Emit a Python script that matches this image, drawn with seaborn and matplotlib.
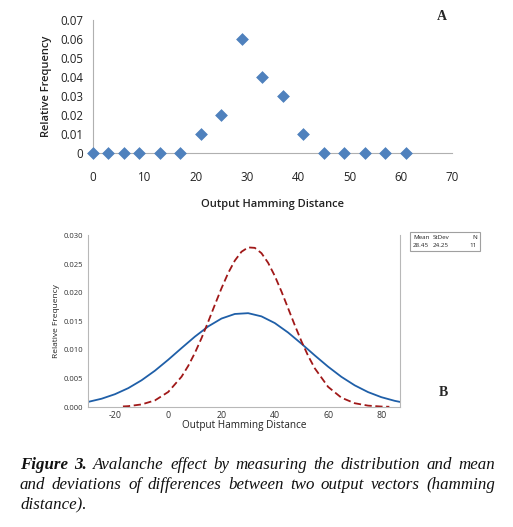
import numpy as np
import pandas as pd
import matplotlib
matplotlib.use("Agg")
import matplotlib.pyplot as plt
import seaborn as sns
from matplotlib.patches import Rectangle

# ---------------- data ----------------
# Panel A: relative frequency of output Hamming distances
hd_a = [0, 3, 6, 9, 13, 17, 21, 25, 29, 33, 37, 41, 45, 49, 53, 57, 61]
freq_a = [0, 0, 0, 0, 0, 0, 0.01, 0.02, 0.06, 0.04, 0.03, 0.01, 0, 0, 0, 0, 0]

# Panel B: blue solid curve
hd_blue = [-30, -25, -20, -15, -10, -5, 0, 5, 10, 15, 20, 25, 30, 35, 40,
           45, 50, 55, 60, 65, 70, 75, 80, 85, 87]
freq_blue = [0.0009, 0.00145, 0.00224, 0.0033, 0.00468, 0.00635, 0.00827,
             0.01031, 0.01231, 0.0141, 0.01548, 0.01628, 0.01642, 0.01586,
             0.01469, 0.01303, 0.01108, 0.00903, 0.00706, 0.00528, 0.00379,
             0.00261, 0.00172, 0.00108, 0.00089]

# Panel B: red dashed curve
hd_red = [-17, -15, -10, -5, 0, 5, 7.5, 10, 12.5, 15, 17.5, 20, 22.5, 25,
          27.5, 30, 32.5, 35, 37.5, 40, 42.5, 45, 47.5, 50, 52.5, 55, 60,
          65, 70, 75, 80, 83]
freq_red = [0.0001, 0.00015, 0.00045, 0.00115, 0.00263, 0.0053, 0.00719,
            0.00945, 0.01205, 0.01491, 0.01788, 0.02078, 0.02344, 0.02562,
            0.02717, 0.02793, 0.02785, 0.02692, 0.02523, 0.02294, 0.02022,
            0.01728, 0.01432, 0.01151, 0.00897, 0.00678, 0.00353, 0.00163,
            0.00066, 0.00024, 0.00008, 0.00004]

xticks_a = [0, 10, 20, 30, 40, 50, 60, 70]
yticks_a = [0, 0.01, 0.02, 0.03, 0.04, 0.05, 0.06, 0.07]
xticks_b = [-20, 0, 20, 40, 60, 80]
yticks_b = [0.0, 0.005, 0.010, 0.015, 0.020, 0.025, 0.030]

stats_header = ["Mean", "StDev", "N"]
stats_values = ["28.45", "24.25", "11"]

caption_lines = [
    [("Figure", "bold"), ("3.", "bold"), ("Avalanche", "normal"), ("effect", "normal"),
     ("by", "normal"), ("measuring", "normal"), ("the", "normal"), ("distribution", "normal"),
     ("and", "normal"), ("mean", "normal")],
    [("and", "normal"), ("deviations", "normal"), ("of", "normal"), ("differences", "normal"),
     ("between", "normal"), ("two", "normal"), ("output", "normal"), ("vectors", "normal"),
     ("(hamming", "normal")],
    [("distance).", "normal")],
]

# ---------------- figure ----------------
sns.set_style("white")
plt.rcParams["font.family"] = ["Open Sans", "DejaVu Sans"]
plt.rcParams["axes.unicode_minus"] = False

W, H = 513, 527
fig = plt.figure(figsize=(W / 100, H / 100), dpi=100)

def fx(px):
    return px / W

def fy(py):
    return 1 - py / H

# ---- Panel A ----
axA = fig.add_axes([fx(93), fy(153), fx(452) - fx(93), fy(20) - fy(153)])
dfA = pd.DataFrame({"hd": hd_a, "freq": freq_a})
sns.scatterplot(data=dfA, x="hd", y="freq", ax=axA, marker="D", s=36,
                color="#4F81BD", edgecolor="#4F81BD", linewidth=0.5,
                clip_on=False, zorder=5)
axA.set_xlim(0, 70)
axA.set_ylim(0, 0.07)
axA.set_xticks(xticks_a)
axA.set_yticks(yticks_a)
axA.set_xticklabels([str(v) for v in xticks_a])
axA.set_yticklabels(["0" if v == 0 else f"{v:.2f}" for v in yticks_a])
axA.tick_params(axis="both", length=0, labelsize=8.3, colors="#222222")
axA.tick_params(axis="x", pad=13)
axA.tick_params(axis="y", pad=7)
for s in ["top", "right"]:
    axA.spines[s].set_visible(False)
for s in ["left", "bottom"]:
    axA.spines[s].set_color("#b0b0b0")
    axA.spines[s].set_linewidth(0.8)
axA.set_xlabel("Output Hamming Distance", fontsize=8, fontweight="semibold",
               labelpad=11, color="#222222")
axA.set_ylabel("Relative Frequency", fontsize=8, fontweight="semibold",
               labelpad=6, color="#222222")
fig.text(fx(442), fy(17), "A", fontsize=10, fontweight="bold",
         family="Liberation Serif", ha="center", va="center")

# ---- Panel B ----
axB = fig.add_axes([fx(88.3), fy(407), fx(400) - fx(88.3), fy(235) - fy(407)])
dfB1 = pd.DataFrame({"hd": hd_blue, "freq": freq_blue})
dfB2 = pd.DataFrame({"hd": hd_red, "freq": freq_red})
sns.lineplot(data=dfB1, x="hd", y="freq", ax=axB, color="#1f5fa8", lw=1.3)
sns.lineplot(data=dfB2, x="hd", y="freq", ax=axB, color="#a01818", lw=1.3,
             linestyle=(0, (4, 2)))
axB.set_xlim(-30, 87)
axB.set_ylim(0, 0.0301)
axB.set_xticks(xticks_b)
axB.set_yticks(yticks_b)
axB.set_yticklabels([f"{v:.3f}" for v in yticks_b])
axB.tick_params(axis="both", length=2, width=0.6, color="#888888",
                labelsize=5.5, colors="#333333", pad=1.5)
axB.tick_params(axis="x", labelsize=6.3, pad=1)
axB.spines["top"].set_visible(False)
for s in ["left", "bottom", "right"]:
    axB.spines[s].set_color("#b8b8b8")
    axB.spines[s].set_linewidth(0.8)
axB.set_xlabel("Output Hamming Distance", fontsize=7.2, labelpad=0, color="#222222")
axB.set_ylabel("Relative Frequency", fontsize=6, labelpad=3, color="#222222")

# stats box
fig.add_artist(Rectangle((fx(410), fy(251)), fx(480) - fx(410), fy(232) - fy(251),
                         transform=fig.transFigure, fill=False,
                         edgecolor="#a0a0a0", linewidth=0.8))
colx = [413, 433, 477]
for i in range(3):
    ha = "left" if i < 2 else "right"
    fig.text(fx(colx[i]), fy(237.5), stats_header[i], fontsize=4.5, ha=ha,
             va="center", color="#222222")
    fig.text(fx(colx[i]), fy(245.5), stats_values[i], fontsize=4.5, ha=ha,
             va="center", color="#222222")

fig.text(fx(443), fy(392), "B", fontsize=10, fontweight="bold",
         family="Liberation Serif", ha="center", va="center")

# ---- caption (justified) ----
renderer = fig.canvas.get_renderer()
x0, x1 = 20, 495
line_y = [469, 489, 508]
for li, words in enumerate(caption_lines):
    texts = []
    for w, wt in words:
        t = fig.text(0, fy(line_y[li]), w, fontsize=12.2, style="italic",
                     weight=wt, family="Liberation Serif", ha="left",
                     va="baseline", color="#111111")
        texts.append(t)
    widths = [t.get_window_extent(renderer).width for t in texts]
    n = len(texts)
    if li < len(caption_lines) - 1 and n > 1:
        gap = (x1 - x0 - sum(widths)) / (n - 1)
    else:
        gap = 3.5
    x = x0
    for t, wd in zip(texts, widths):
        t.set_x(fx(x))
        x += wd + gap

fig.savefig("out.png", dpi=100)
